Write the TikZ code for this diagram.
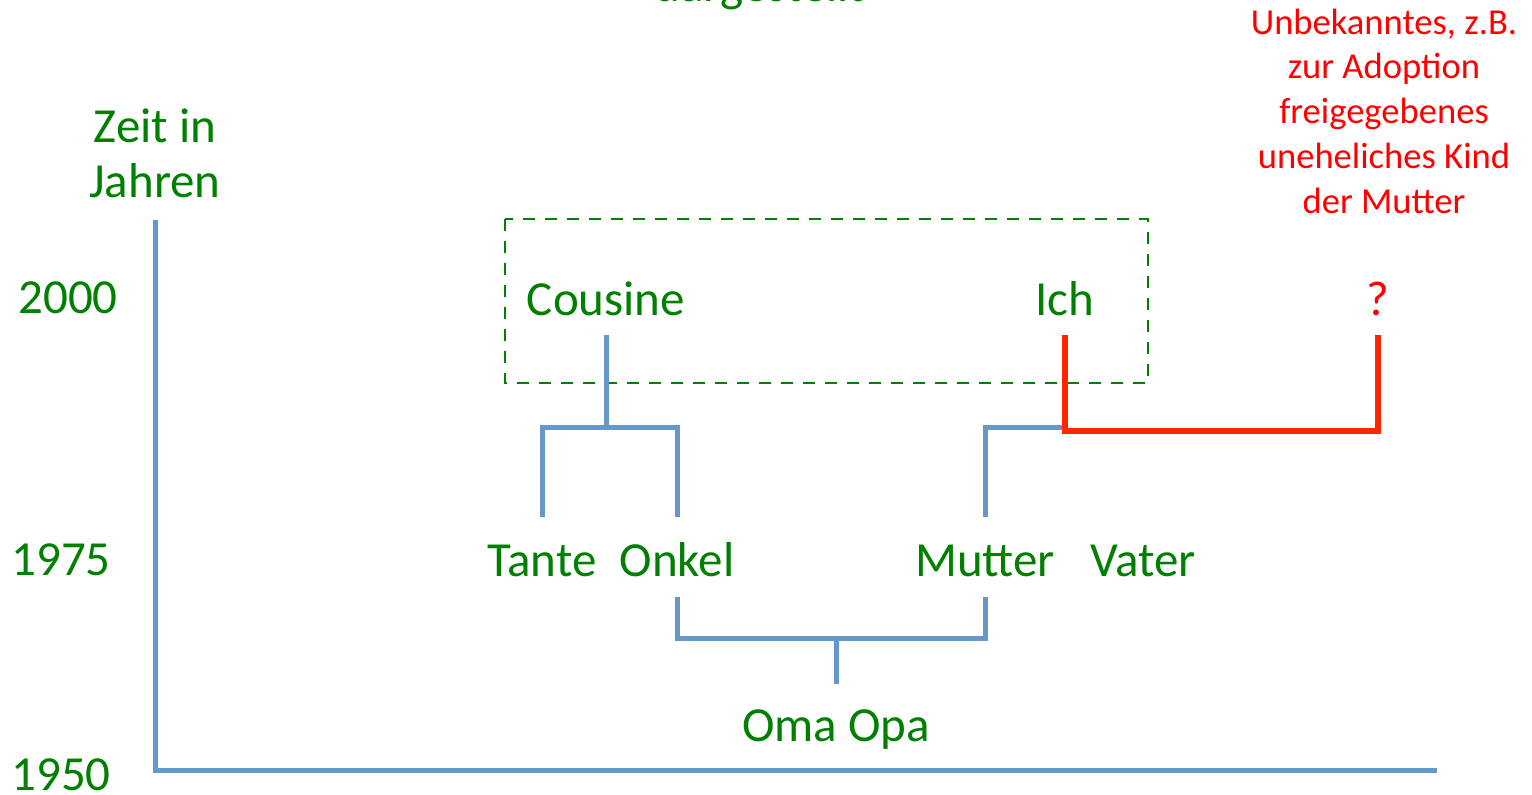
\documentclass[tikz,border=0pt]{standalone}
\usepackage{xcolor}
\usepackage{fontspec}
\setmainfont{Carlito}
\usepackage{tikz}
\usetikzlibrary{positioning}

\definecolor{famgreen}{RGB}{0,128,0}
\definecolor{famblue}{RGB}{101,151,202}
\definecolor{famred}{RGB}{255,38,0}
\definecolor{notered}{RGB}{255,0,0}

\begin{document}
\begin{tikzpicture}[x=0.5pt, y=-0.5pt,
				person/.style={text=famgreen, font=\fontsize{24.5}{27.5}\selectfont, inner sep=0pt, anchor=base},
				note/.style={text=notered, font=\fontsize{18.3}{22.35}\selectfont, inner sep=0pt, anchor=base, align=center},
				famline/.style={draw=famblue, line width=2.5pt},
				redline/.style={draw=famred, line width=3pt},
				group/.style={draw=famgreen, line width=1pt, dash pattern=on 6pt off 5pt}]
				
				\useasboundingbox (0,0) rectangle (1532,794);
				\clip (0,0) rectangle (1532,794);
				
				% title, only its lower edge is visible
				\node[person] (title) at (760,1) {dargestellt};
				
				% time axis
				\node[person, align=center] (axislabel) at (155,197) {Zeit in\\Jahren};
				\node[person] (y2000) at (68,313) {2000};
				\node[person] (y1975) at (61,575) {1975};
				\node[person] (y1950) at (61,790) {1950};
				\coordinate (axtop) at (155,220);
				\coordinate (axorigin) at (155,770);
				\coordinate (axend) at (1437,770);
				\draw[famline] (axtop) -- (axorigin) -- (axend);
				
				% persons
				\node[person] (cousine) at (606,315) {Cousine};
				\node[person] (ich) at (1065,315) {Ich};
				\node[person, text=notered] (unknown) at (1378,315) {?};
				\node[person] (tante) at (542,576) {Tante};
				\node[person] (onkel) at (677,576) {Onkel};
				\node[person] (mutter) at (985,576) {Mutter};
				\node[person] (vater) at (1143,576) {Vater};
				\node[person] (grandparents) at (836,741) {Oma Opa};
				
				% same generation
				\draw[group] (505,219) rectangle (1148,383);
				
				% lines of descent
				\draw[famline] ([yshift=-10pt]cousine.base) -- ++(0,92);
				\draw[famline] ([yshift=29.5pt]tante.base) -- ++(0,-90) -| ([yshift=29.5pt]onkel.base);
				\draw[famline] ([yshift=29.5pt]mutter.base) -- ++(0,-90) -- (1065,427);
				\draw[famline] ([yshift=-10.5pt]onkel.base) -- ++(0,41) -| ([yshift=-10.5pt]mutter.base);
				\draw[famline] ([yshift=28.5pt]grandparents.base) -- ++(0,-46);
				\draw[redline] ([yshift=-10pt]ich.base) -- ++(0,96) -| ([yshift=-10pt]unknown.base);
				
				% note on the unknown child
				\node[note] (notetext) at (1384,213) {Unbekanntes, z.B.\\zur Adoption\\freigegebenes\\uneheliches Kind\\der Mutter};
			\end{tikzpicture}
\end{document}
